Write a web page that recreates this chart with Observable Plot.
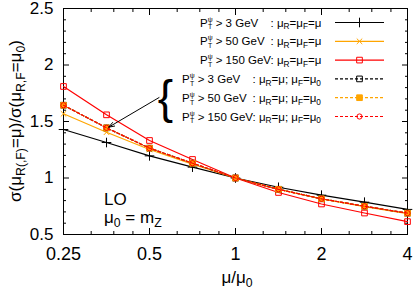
<!DOCTYPE html>
<html><head><meta charset="utf-8">
<script src="https://cdn.jsdelivr.net/npm/d3@7"></script>
<script src="https://cdn.jsdelivr.net/npm/@observablehq/plot@0.6"></script>
<style>body{margin:0;background:#fff} svg{display:block}</style>
</head><body><div id="chart"></div>
<script>
// ---- data ----
const muRatio = [0.25, 0.3536, 0.5, 0.7071, 1, 1.4142, 2, 2.8284, 4];
const pt3_RF = [1.429, 1.314, 1.196, 1.096, 1.0, 0.918, 0.848, 0.786, 0.722];
const pt50_RF = [1.568, 1.405, 1.252, 1.122, 1.0, 0.900, 0.815, 0.747, 0.685];
const pt150_RF = [1.810, 1.559, 1.332, 1.164, 1.0, 0.872, 0.770, 0.690, 0.614];
const pt3_R = [1.644, 1.444, 1.264, 1.131, 1.0, 0.900, 0.816, 0.750, 0.689];
const pt50_R = [1.644, 1.444, 1.264, 1.131, 1.0, 0.900, 0.816, 0.750, 0.689];
const pt150_R = [1.644, 1.444, 1.264, 1.131, 1.0, 0.900, 0.816, 0.750, 0.689];
const ptCuts = ["3", "50", "150", "3", "50", "150"];
const xTicks = [0.25, 0.5, 1, 2, 4];
const xTickLabels = ["0.25", "0.5", "1", "2", "4"];
const xMinorTicks = [0.3125, 0.375, 0.4375, 0.625, 0.75, 0.875, 1.25, 1.5, 1.75, 2.5, 3, 3.5];
const yTicks = [0.5, 1, 1.5, 2, 2.5];
const yTickLabels = ["0.5", "1", "1.5", "2", "2.5"];
const yMinorTicks = d3.range(0.6, 2.45, 0.1).filter(v => Math.abs(v * 2 - Math.round(v * 2)) > 1e-6);

// ---- styles ----
const FONT = "'Liberation Sans', Arial, Helvetica, sans-serif";
const seriesVals = [pt3_RF, pt50_RF, pt150_RF, pt3_R, pt50_R, pt150_R];
const styles = [
  {color: "#000000", dash: null, symbol: "plus", fill: "none"},
  {color: "#ffa500", dash: null, symbol: "times", fill: "none"},
  {color: "#ff0000", dash: null, symbol: "square", fill: "none"},
  {color: "#000000", dash: "3,2", symbol: "square", fill: "none"},
  {color: "#ffa500", dash: "3,2", symbol: "square", fill: "#ffa500"},
  {color: "#ff0000", dash: "3,2", symbol: "circle", fill: "none"}
];
const symR = {plus: 3.2, times: 2.6, square: 3.2, circle: 2.6};

const seriesMarks = seriesVals.flatMap((vals, k) => {
  const data = muRatio.map((m, i) => ({mu: m, r: vals[i]}));
  const s = styles[k];
  return [
    Plot.line(data, {x: "mu", y: "r", stroke: s.color, strokeWidth: 1.2, strokeDasharray: s.dash}),
    Plot.dot(data, {x: "mu", y: "r", symbol: s.symbol, stroke: s.color, fill: s.fill, r: symR[s.symbol], strokeWidth: 1})
  ];
});

const arrowAnn = [{x1: 0.54, y1: 1.712, x2: 0.36, y2: 1.45}];
const braceAnn = [{x: 0.569, y: 1.71, t: "{"}];

const svg = Plot.plot({
  width: 415, height: 291,
  marginLeft: 63, marginRight: 8, marginTop: 8, marginBottom: 57,
  style: {fontFamily: FONT, background: "#fff", color: "#000"},
  x: {type: "log", base: 2, domain: [0.25, 4]},
  y: {domain: [0.5, 2.5]},
  marks: [
    Plot.frame({stroke: "#000", strokeWidth: 1}),
    // major ticks inside, all sides
    Plot.axisX(xTicks, {anchor: "bottom", tickSize: 6, dy: -6, fill: "none", label: null}),
    Plot.axisX(xTicks, {anchor: "top", tickSize: 6, dy: 6, fill: "none", label: null}),
    Plot.axisY(yTicks, {anchor: "left", tickSize: 6, dx: 6, fill: "none", label: null}),
    Plot.axisY(yTicks, {anchor: "right", tickSize: 6, dx: -6, fill: "none", label: null}),
    // minor ticks
    Plot.axisX(xMinorTicks, {anchor: "bottom", tickSize: 3, dy: -3, fill: "none", label: null}),
    Plot.axisX(xMinorTicks, {anchor: "top", tickSize: 3, dy: 3, fill: "none", label: null}),
    Plot.axisY(yMinorTicks, {anchor: "left", tickSize: 3, dx: 3, fill: "none", label: null}),
    Plot.axisY(yMinorTicks, {anchor: "right", tickSize: 3, dx: -3, fill: "none", label: null}),
    // tick labels
    Plot.axisX(xTicks, {anchor: "bottom", tickSize: 0, tickPadding: 13, fontSize: 18, label: null,
      tickFormat: d => xTickLabels[xTicks.indexOf(d)]}),
    Plot.axisY(yTicks, {anchor: "left", tickSize: 0, tickPadding: 10, fontSize: 17, label: null,
      tickFormat: d => yTickLabels[yTicks.indexOf(d)]}),
    ...seriesMarks,
    Plot.arrow(arrowAnn, {x1: "x1", y1: "y1", x2: "x2", y2: "y2", stroke: "#000", strokeWidth: 1, headLength: 9, headAngle: 40}),
    Plot.text(braceAnn, {x: "x", y: "y", text: "t", fontSize: 46, lineAnchor: "middle", fill: "#000"})
  ]
});
document.getElementById("chart").append(svg);

// ---- rich text (sub/superscripts) ----
const root = d3.select(svg).append("g").attr("font-family", FONT).attr("fill", "#000").attr("text-anchor", "start");

function rich(g, x, y, parts, size) {
  const t = g.append("text").attr("x", x).attr("y", y).attr("font-size", size);
  const off = k => (k === 1 ? 0.25 : k === -1 ? -0.42 : 0) * size;
  let cur = 0;
  for (const p of parts) {
    const s = typeof p === "string" ? {t: p, k: 0} : p;
    const dy = off(s.k) - off(cur);
    cur = s.k;
    const ts = t.append("tspan").attr("font-size", s.k ? size * (s.fs || 0.72) : size)
      .attr("xml:space", "preserve").text(s.t);
    if (dy !== 0) ts.attr("dy", dy);
    if (s.x !== undefined) ts.attr("x", s.x);
    if (s.cls) ts.attr("class", s.cls);
  }
  return t;
}
const sub = t => ({t, k: 1});

// y label
const yl = root.append("g").attr("transform", "translate(21,121) rotate(-90)");
rich(yl, 0, 0, ["σ(μ", sub("R(,F)"), "=μ)/σ(μ", sub("R,F"), "=μ", sub("0"), ")"], 17).attr("text-anchor", "middle");
// x label
rich(root, 237, 283, ["μ/μ", sub("0")], 17).attr("text-anchor", "middle");
// LO annotation
rich(root, 104, 205, ["LO"], 17);
rich(root, 104, 223, ["μ", sub("0"), " = m", sub("Z")], 17);

// legend
const LFS = 11.5;
const suffixA = [": μ", sub("R"), "=μ", sub("F"), "=μ"];
const suffixB = [": μ", sub("R"), "=μ; μ", sub("F"), "=μ", sub("0")];
styles.forEach((s, i) => {
  const cy = 22.5 + 18.8 * i;
  const base = cy + 4;
  const x0 = i < 3 ? 200 : 182;
  const suffix = (i < 3 ? suffixA : suffixB).slice();
  suffix[0] = {t: suffix[0], k: 0, cls: "colon g" + (i < 3 ? 0 : 1)};
  rich(root, x0, base, [
    "P",
    {t: "ψ", k: -1, fs: 0.6},
    {t: "T", k: 1, fs: 0.6, x: x0 + 8},
    {t: " > " + ptCuts[i] + " GeV", k: 0, x: x0 + 12.5},
    ...suffix
  ], LFS);
  root.append("line").attr("x1", 335).attr("x2", 384).attr("y1", cy).attr("y2", cy)
    .attr("stroke", s.color).attr("stroke-width", 1.2).attr("stroke-dasharray", s.dash);
  const rr = symR[s.symbol];
  const sym = {plus: d3.symbolPlus, times: d3.symbolTimes, square: d3.symbolSquare, circle: d3.symbolCircle}[s.symbol];
  root.append("path").attr("transform", `translate(359.5,${cy})`)
    .attr("d", d3.symbol(sym, Math.PI * rr * rr)())
    .attr("stroke", s.color).attr("fill", s.fill).attr("stroke-width", 1);
});
// align colons within each legend group
for (const g of ["g0", "g1"]) {
  const nodes = root.selectAll("tspan.colon." + g).nodes();
  const xs = nodes.map(n => { try { return n.getStartPositionOfChar(0).x; } catch (e) { return 0; } });
  const mx = Math.max(...xs);
  if (mx > 0) nodes.forEach(n => n.setAttribute("x", mx));
}
</script></body></html>
